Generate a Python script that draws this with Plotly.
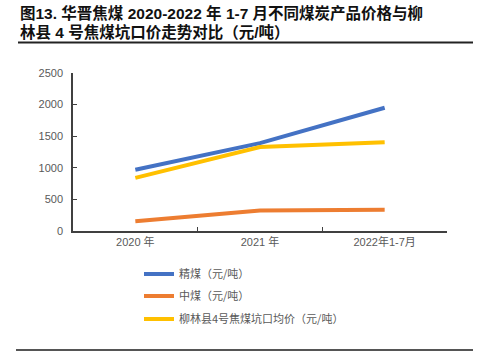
import plotly.graph_objects as go

categories = ["2020 年", "2021 年", "2022年1-7月"]
jingmei = [970, 1390, 1950]
zhongmei = [155, 325, 335]
liulin = [840, 1330, 1405]
series_names = ["精煤（元/吨）", "中煤（元/吨）", "柳林县4号焦煤坑口均价（元/吨）"]
colors = ["#4472C4", "#ED7D31", "#FFC000"]
y_ticks = [0, 500, 1000, 1500, 2000, 2500]

W, H = 477, 356
CJK = "Liberation Sans, Arial, Noto Sans CJK SC"

fig = go.Figure()
legend_ids = ["legend", "legend2", "legend3"]
for name, vals, col, lg in zip(series_names, [jingmei, zhongmei, liulin], colors, legend_ids):
    fig.add_trace(go.Scatter(x=categories, y=vals, mode="lines", name=name,
                             line=dict(color=col, width=4), legend=lg))

def px_x(p):
    return p / W

def px_y(p):
    return 1 - p / H

leg_common = dict(bgcolor="rgba(0,0,0,0)", font=dict(family="Noto Sans CJK SC", size=11, color="#595959"),
                  xanchor="left", yanchor="middle", itemwidth=30)
legs = {}
for lg, yy in zip(legend_ids, [274, 296, 319]):
    legs[lg] = dict(x=px_x(139), y=px_y(yy), **leg_common)

fig.update_layout(
    width=W, height=H,
    margin=dict(l=0, r=0, t=0, b=0, autoexpand=False),
    paper_bgcolor="white", plot_bgcolor="white",
    showlegend=True,
    xaxis=dict(domain=[px_x(73), px_x(447)], type="category", range=[-0.5, 2.5],
               showline=True, linecolor="#404040", linewidth=1.5,
               ticks="inside", ticklen=4, tickcolor="#404040", tickson="boundaries",
               tickfont=dict(family=CJK, size=11, color="#595959"), showgrid=False),
    yaxis=dict(domain=[px_y(231), px_y(73)], range=[0, 2500], tickvals=y_ticks,
               showline=True, linecolor="#404040", linewidth=1.5,
               ticks="inside", ticklen=4, tickcolor="#404040", ticklabelstandoff=6,
               tickfont=dict(family=CJK, size=11, color="#595959"), showgrid=False, zeroline=False),
    **legs,
)

title1 = "<b>图13. 华晋焦煤 2020-2022 年 1-7 月不同煤炭产品价格与柳</b>"
title2 = "<b>林县 4 号焦煤坑口价走势对比（元/吨）</b>"
fig.add_annotation(text=title1, xref="paper", yref="paper", x=px_x(18), y=px_y(13),
                   xanchor="left", yanchor="middle", showarrow=False,
                   font=dict(family=CJK, size=15.5, color="#111111"))
fig.add_annotation(text=title2, xref="paper", yref="paper", x=px_x(18), y=px_y(32),
                   xanchor="left", yanchor="middle", showarrow=False,
                   font=dict(family=CJK, size=15.5, color="#111111"))
fig.add_annotation(text="资料来源：公司公告，华创证券研究所", xref="paper", yref="paper",
                   x=px_x(18), y=px_y(361), xanchor="left", yanchor="middle", showarrow=False,
                   font=dict(family="Noto Sans CJK SC", size=11, color="#595959"))

fig.add_shape(type="line", xref="paper", yref="paper", x0=px_x(18), x1=px_x(473),
              y0=px_y(42.5), y1=px_y(42.5), line=dict(color="#222222", width=2))
fig.add_shape(type="line", xref="paper", yref="paper", x0=px_x(16), x1=px_x(473),
              y0=px_y(350), y1=px_y(350), line=dict(color="#555555", width=2))

fig.write_html("out.html", config={"displayModeBar": False},
               post_script="document.body.style.margin='0';document.body.style.overflow='hidden';")
